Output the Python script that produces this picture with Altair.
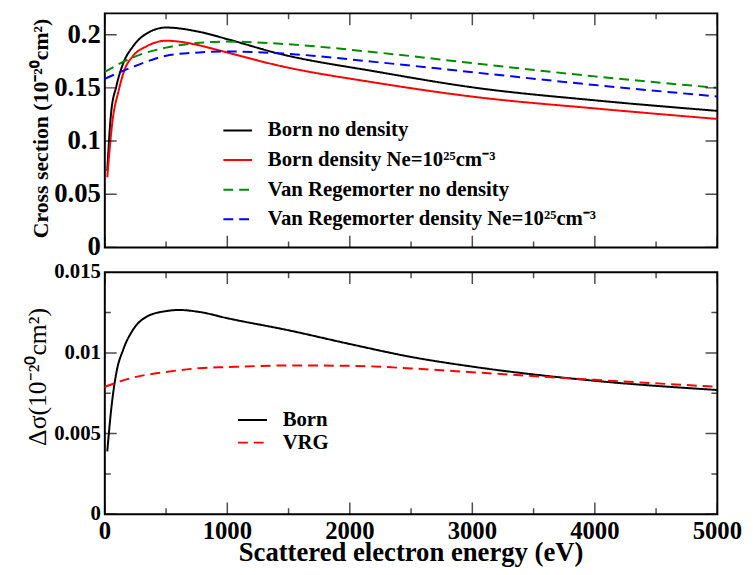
import altair as alt
import pandas as pd

FONT = "Liberation Serif"

# ---------------- top panel: cross sections (1e-20 cm^2) ----------------
top_names = [
    "Born no density",
    "Born density Ne=10²⁵cm⁻³",
    "Van Regemorter no density",
    "Van Regemorter density Ne=10²⁵cm⁻³",
]
top_colors = ["#000000", "#ff0000", "#008b00", "#0000ff"]
top_dashes = [[1, 0], [1, 0], [10, 6], [10, 6]]

born_nd_E = [20, 50, 95, 150, 230, 340, 500, 770, 1000, 1410, 2220, 3020, 4000, 5000]
born_nd_v = [0.072, 0.125, 0.152, 0.173, 0.189, 0.201, 0.2067, 0.2027, 0.1958, 0.1825,
             0.1652, 0.1502, 0.1383, 0.1284]
born_d_E = [20, 65, 110, 160, 230, 340, 500, 630, 770, 1000, 1410, 2220, 3020, 4000, 5000]
born_d_v = [0.066, 0.121, 0.146, 0.1667, 0.180, 0.189, 0.1943, 0.1931, 0.190, 0.1832,
            0.1712, 0.1547, 0.1415, 0.1307, 0.1208]
vr_nd_E = [0, 230, 500, 770, 1000, 1410, 2220, 3020, 4000, 5000]
vr_nd_v = [0.165, 0.1787, 0.1878, 0.1923, 0.1935, 0.1916, 0.1833, 0.1730, 0.1608, 0.150]
vr_d_E = [0, 230, 500, 770, 1000, 1410, 2220, 3020, 4000, 5000]
vr_d_v = [0.1586, 0.1697, 0.1802, 0.1833, 0.1842, 0.1826, 0.1742, 0.1645, 0.1527, 0.1419]

# ---------------- bottom panel: delta sigma ----------------
bot_names = ["Born", "VRG"]
bot_colors = ["#000000", "#ff0000"]
bot_dashes = [[1, 0], [10, 6]]

d_born_E = [20, 55, 95, 150, 230, 340, 500, 605, 770, 1000, 1500, 2000, 2500, 3000, 4000, 5000]
d_born_v = [0.0039, 0.0067, 0.0088, 0.0102, 0.01143, 0.01224, 0.01259, 0.01266, 0.01254,
            0.01215, 0.0114, 0.01055, 0.00975, 0.00915, 0.00827, 0.0077]
d_vrg_E = [0, 230, 500, 770, 1000, 1500, 2000, 2500, 3000, 4000, 5000]
d_vrg_v = [0.0079, 0.00847, 0.00882, 0.00905, 0.00912, 0.00922, 0.0092, 0.00904, 0.0088,
           0.00833, 0.0079]

x_labels = [0, 1000, 2000, 3000, 4000, 5000]
x_minor = [500, 1500, 2500, 3500, 4500]
top_y_labels = [0, 0.05, 0.1, 0.15, 0.2]
top_y_minor = []
bot_y_labels = [0, 0.005, 0.01, 0.015]
bot_y_minor = [0.0025, 0.0075, 0.0125]

x_title = "Scattered electron energy (eV)"
top_y_title = "Cross section (10⁻²⁰cm²)"
bot_y_title = "Δσ(10⁻²⁰cm²)"

W = 620
MAJOR = 12
MINOR = 6
XDOM = [0, 5000]


def frame(pairs):
    rows = []
    for name, es, vs in pairs:
        for e, v in zip(es, vs):
            rows.append({"E": e, "v": v, "s": name})
    return pd.DataFrame(rows)


def tick_frame(major, minor):
    return pd.DataFrame(
        [{"t": t, "len": 2 * MAJOR} for t in major]
        + [{"t": t, "len": 2 * MINOR} for t in minor]
    )


def label_frame(vals):
    return pd.DataFrame({"t": vals, "lab": [str(v) for v in vals]})


df_top = frame([
    (top_names[0], born_nd_E, born_nd_v),
    (top_names[1], born_d_E, born_d_v),
    (top_names[2], vr_nd_E, vr_nd_v),
    (top_names[3], vr_d_E, vr_d_v),
])
df_bot = frame([
    (bot_names[0], d_born_E, d_born_v),
    (bot_names[1], d_vrg_E, d_vrg_v),
])


def panel(df, names, colors, dashes, ydom, ylabels, yminor, ylab_size,
          ytitle, ytitle_weight, ytitle_size, ytitle_x, ytitle_y, H, show_x, leg):
    xs = alt.Scale(domain=XDOM, nice=False, zero=False)
    ys = alt.Scale(domain=ydom, nice=False, zero=False)

    lines = alt.Chart(df).mark_line(strokeWidth=2, interpolate="monotone", clip=True).encode(
        x=alt.X("E:Q", scale=xs, axis=None),
        y=alt.Y("v:Q", scale=ys, axis=None),
        color=alt.Color("s:N", scale=alt.Scale(domain=names, range=colors), legend=leg),
        strokeDash=alt.StrokeDash("s:N", scale=alt.Scale(domain=names, range=dashes),
                                  legend=leg),
    )

    xt = alt.Chart(tick_frame(x_labels, x_minor))
    yt = alt.Chart(tick_frame(ylabels, yminor))
    tick_style = dict(color="black", thickness=1.5, clip=True)
    # inward ticks on all four sides (half of each tick falls outside and is clipped)
    x_bottom = xt.mark_tick(**tick_style).encode(
        x=alt.X("t:Q", scale=xs, axis=None), y=alt.value(H),
        size=alt.Size("len:Q", scale=None, legend=None))
    x_top = xt.mark_tick(**tick_style).encode(
        x=alt.X("t:Q", scale=xs, axis=None), y=alt.value(0),
        size=alt.Size("len:Q", scale=None, legend=None))
    y_left = yt.mark_tick(**tick_style).encode(
        y=alt.Y("t:Q", scale=ys, axis=None), x=alt.value(0),
        size=alt.Size("len:Q", scale=None, legend=None))
    y_right = yt.mark_tick(**tick_style).encode(
        y=alt.Y("t:Q", scale=ys, axis=None), x=alt.value(W),
        size=alt.Size("len:Q", scale=None, legend=None))

    # tick labels and titles
    ylab = alt.Chart(label_frame(ylabels)).mark_text(
        font=FONT, fontSize=ylab_size, fontWeight="bold", color="black",
        align="right", baseline="middle").encode(
        y=alt.Y("t:Q", scale=ys, axis=None), x=alt.value(-4), text="lab:N")
    ytit = alt.Chart(pd.DataFrame({"txt": [ytitle]})).mark_text(
        font=FONT, fontSize=ytitle_size, fontWeight=ytitle_weight, color="black",
        angle=270, align="center", baseline="alphabetic").encode(
        x=alt.value(ytitle_x), y=alt.value(ytitle_y), text="txt:N")
    layers = [lines, x_bottom, x_top, y_left, y_right, ylab, ytit]
    if show_x:
        layers.append(alt.Chart(label_frame(x_labels)).mark_text(
            font=FONT, fontSize=25, fontWeight="bold", color="black",
            align="center", baseline="alphabetic").encode(
            x=alt.X("t:Q", scale=xs, axis=None), y=alt.value(H + 25), text="lab:N"))
        layers.append(alt.Chart(pd.DataFrame({"txt": [x_title]})).mark_text(
            font=FONT, fontSize=27, fontWeight="bold", color="black",
            align="center", baseline="alphabetic").encode(
            x=alt.value(W / 2), y=alt.value(H + 47), text="txt:N"))

    return alt.layer(*layers).resolve_scale(size="independent").properties(
        width=W, height=H)


leg_top = alt.Legend(title=None, orient="none", legendX=119, legendY=103,
                     symbolType="stroke", symbolSize=841, symbolStrokeWidth=2,
                     labelFont=FONT, labelFontSize=21, labelFontWeight="bold",
                     labelColor="black", labelOffset=15, rowPadding=4, padding=0,
                     labelLimit=600)
leg_bot = alt.Legend(title=None, orient="none", legendX=138, legendY=138,
                     symbolType="M-1.4,0H1.4", symbolSize=441, symbolStrokeWidth=2,
                     labelFont=FONT, labelFontSize=21, labelFontWeight="bold",
                     labelColor="black", labelOffset=19, rowPadding=1, padding=0,
                     labelLimit=600)

H_TOP, H_BOT = 237, 245
top = panel(df_top, top_names, top_colors, top_dashes, [0, 0.22], top_y_labels,
            top_y_minor, 27, top_y_title, "bold", 22, -58, H_TOP / 2 - 2,
            H_TOP, False, leg_top)
bot = panel(df_bot, bot_names, bot_colors, bot_dashes, [0, 0.015], bot_y_labels,
            bot_y_minor, 21, bot_y_title, "normal", 26, -60, 106,
            H_BOT, True, leg_bot)

chart = alt.vconcat(top, bot, spacing=25, bounds="flush").resolve_scale(
    color="independent", strokeDash="independent", y="independent", size="independent"
).resolve_legend(color="independent", strokeDash="independent").properties(
    padding={"left": 16, "top": 1, "right": 2, "bottom": 2}
).configure_view(stroke="black", strokeWidth=2)

chart.save("out.html", embed_options={"renderer": "svg", "actions": False})
